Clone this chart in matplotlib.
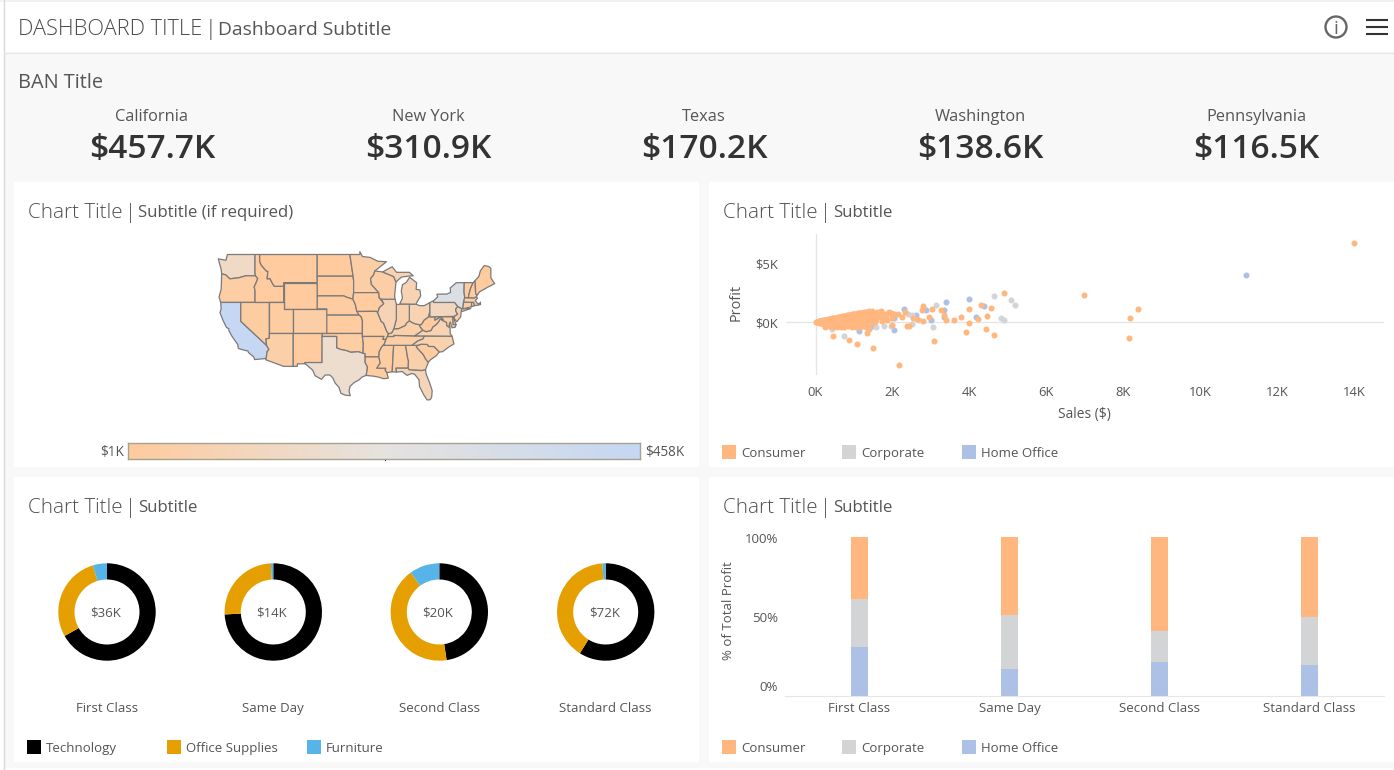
import math
import numpy as np
import matplotlib
matplotlib.use("Agg")
import matplotlib.pyplot as plt
from matplotlib.colors import LinearSegmentedColormap, Normalize
from matplotlib.patches import Rectangle, Polygon, Circle

plt.rcParams['font.family'] = ['Open Sans', 'DejaVu Sans']

# ---------- data ----------
ban_states = ["California", "New York", "Texas", "Washington", "Pennsylvania"]
ban_values = ["$457.7K", "$310.9K", "$170.2K", "$138.6K", "$116.5K"]

state_sales = {
    "CA": 457.7, "NY": 310.9, "TX": 170.2, "WA": 138.6, "PA": 116.5, "FL": 89.5, "IL": 80.2, "OH": 78.3,
    "MI": 76.3, "VA": 70.6, "NC": 55.6, "IN": 53.6, "GA": 49.1, "KY": 36.6, "NJ": 35.8, "AZ": 35.3,
    "CO": 32.1, "WI": 32.1, "TN": 30.7, "MN": 29.9, "MA": 28.6, "DE": 27.5, "RI": 22.6, "MO": 22.2,
    "OK": 19.7, "AL": 19.5, "OR": 17.4, "NV": 16.7, "CT": 13.4, "AR": 11.7, "UT": 11.2, "MS": 10.8,
    "LA": 9.2, "VT": 9.0, "SC": 8.5, "NE": 7.5, "NH": 7.3, "MT": 5.6, "NM": 4.8, "IA": 4.6, "ID": 4.4,
    "KS": 2.9, "MD": 23.7, "WY": 1.6, "SD": 1.3, "ME": 1.3, "WV": 1.2, "ND": 0.9,
}

state_shapes = {
    "WA": [[(-124.7,48.4),(-123.1,48.2),(-122.8,49.0),(-117.03,49.0),(-117.04,46.42),(-116.92,45.99),(-118.98,46.0),(-119.3,45.93),(-120.5,45.7),(-121.2,45.65),(-122.3,45.55),(-122.8,45.9),(-123.2,46.15),(-124.0,46.27),(-124.1,46.9)]],
    "OR": [[(-124.0,46.27),(-123.2,46.15),(-122.8,45.9),(-122.3,45.55),(-121.2,45.65),(-120.5,45.7),(-119.3,45.93),(-118.98,46.0),(-116.92,45.99),(-116.46,45.6),(-116.85,44.9),(-117.2,44.4),(-117.03,43.8),(-117.03,42.0),(-124.2,42.0),(-124.55,42.84),(-124.1,44.0)]],
    "CA": [[(-124.2,42),(-120,42),(-120,39),(-114.63,35.0),(-114.14,34.3),(-114.5,33.9),(-114.72,32.72),(-117.12,32.53),(-117.3,33.0),(-118.4,33.75),(-118.5,34.03),(-119.2,34.15),(-120.5,34.45),(-120.65,35.15),(-121.9,36.6),(-122.5,37.5),(-122.5,37.8),(-123.0,38.0),(-123.8,39.3),(-124.35,40.4),(-124.1,41.0)]],
    "NV": [[(-120,42),(-114.04,42),(-114.04,36.2),(-114.74,36.1),(-114.63,35.0),(-120,39)]],
    "ID": [[(-117.03,49),(-116.05,49),(-116.05,48.0),(-115.7,47.5),(-114.7,46.7),(-114.35,46.65),(-114.5,45.55),(-113.9,45.6),(-113.45,44.95),(-113.0,44.45),(-111.05,44.47),(-111.05,42),(-117.03,42),(-117.03,43.8),(-117.2,44.4),(-116.85,44.9),(-116.46,45.6),(-116.92,45.99),(-117.04,46.42)]],
    "MT": [[(-116.05,49),(-104.05,49),(-104.05,45),(-111.05,45),(-111.05,44.47),(-113,44.45),(-113.45,44.95),(-113.9,45.6),(-114.5,45.55),(-114.35,46.65),(-114.7,46.7),(-115.7,47.5),(-116.05,48)]],
    "WY": [[(-111.05,45),(-104.05,45),(-104.05,41),(-111.05,41)]],
    "UT": [[(-114.04,42),(-111.05,42),(-111.05,41),(-109.05,41),(-109.05,37),(-114.04,37)]],
    "AZ": [[(-114.04,37),(-109.05,37),(-109.05,31.33),(-111.07,31.33),(-114.8,32.5),(-114.72,32.72),(-114.5,33.9),(-114.14,34.3),(-114.63,35.0),(-114.74,36.1),(-114.04,36.2)]],
    "CO": [[(-109.05,41),(-102.05,41),(-102.05,37),(-109.05,37)]],
    "NM": [[(-109.05,37),(-103,37),(-103.04,32),(-106.62,32),(-106.53,31.78),(-108.2,31.78),(-108.2,31.33),(-109.05,31.33)]],
    "ND": [[(-104.05,49),(-97.23,49),(-96.56,45.94),(-104.05,45.94)]],
    "SD": [[(-104.05,45.94),(-96.56,45.94),(-96.45,45.3),(-96.45,43.5),(-96.6,42.5),(-97.9,42.8),(-98.5,43.0),(-104.05,43)]],
    "NE": [[(-104.05,43),(-98.5,43),(-97.9,42.8),(-96.6,42.5),(-96.1,41.7),(-95.9,41),(-95.31,40),(-102.05,40),(-102.05,41),(-104.05,41)]],
    "KS": [[(-102.05,40),(-95.31,40),(-94.9,39.8),(-94.61,39.1),(-94.62,37),(-102.05,37)]],
    "OK": [[(-103,37),(-94.62,37),(-94.62,36.5),(-94.43,35.4),(-94.48,33.64),(-95.5,33.9),(-97.0,33.8),(-98,34.1),(-99.2,34.3),(-100,34.56),(-100,36.5),(-103,36.5)]],
    "TX": [[(-103.04,36.5),(-100,36.5),(-100,34.56),(-99.2,34.3),(-98,34.1),(-97,33.8),(-95.5,33.9),(-94.48,33.64),(-94.04,33.55),(-94.04,33),(-94.04,31.99),(-93.55,31.2),(-93.7,30.3),(-93.84,29.7),(-94.7,29.4),(-95.3,28.9),(-96.4,28.35),(-97.2,27.7),(-97.4,26.8),(-97.15,25.96),(-98.2,26.05),(-99.1,26.4),(-99.5,27.5),(-100.3,28.3),(-100.8,29.25),(-101.4,29.77),(-102.4,29.77),(-103.15,28.98),(-104.5,29.65),(-105,30.65),(-106.53,31.78),(-106.62,32),(-103.04,32)]],
    "MN": [[(-97.23,49),(-95.15,49),(-95.15,49.38),(-94.6,48.72),(-93,48.6),(-91.4,48.07),(-89.6,48),(-92.0,46.7),(-92.3,46.1),(-92.9,45.6),(-92.75,44.75),(-91.2,43.5),(-96.45,43.5),(-96.45,45.3),(-96.56,45.94)]],
    "IA": [[(-96.45,43.5),(-91.2,43.5),(-91.1,42.7),(-90.15,41.8),(-91.05,41.2),(-91.42,40.38),(-91.7,40.6),(-95.77,40.58),(-95.9,41),(-96.1,41.7),(-96.6,42.5)]],
    "MO": [[(-95.77,40.58),(-91.7,40.6),(-91.42,40.38),(-90.7,39.0),(-90.2,38.7),(-89.5,37.3),(-89.15,36.97),(-89.4,36.5),(-89.7,36),(-90.37,36),(-90.15,36.5),(-94.62,36.5),(-94.62,37),(-94.61,39.1),(-94.9,39.8),(-95.31,40)]],
    "AR": [[(-94.62,36.5),(-90.15,36.5),(-90.37,36),(-89.7,36),(-90.1,35.1),(-90.6,34.7),(-91.1,33.9),(-91.17,33),(-94.04,33),(-94.04,33.55),(-94.48,33.64),(-94.43,35.4)]],
    "LA": [[(-94.04,33),(-91.17,33),(-90.9,31.9),(-91.6,31),(-89.73,31),(-89.85,30.65),(-89.5,30.2),(-89.4,29.8),(-89.2,29.2),(-90.2,29.1),(-91.3,29.4),(-92.2,29.55),(-93.84,29.7),(-93.7,30.3),(-93.55,31.2),(-94.04,31.99)]],
    "MS": [[(-90.3,35),(-88.2,35),(-88.1,34.9),(-88.4,30.35),(-89.5,30.2),(-89.85,30.65),(-89.73,31),(-91.6,31),(-90.9,31.9),(-91.17,33),(-91.1,33.9),(-90.6,34.7)]],
    "AL": [[(-88.2,35),(-85.6,35),(-85.18,32.87),(-85.0,32.3),(-85.05,31),(-87.6,31),(-87.5,30.3),(-88.4,30.35),(-88.1,34.9)]],
    "GA": [[(-85.6,35),(-83.1,35),(-83.35,34.7),(-81.9,33.4),(-81.4,32.6),(-80.85,32.05),(-81.45,30.72),(-82.2,30.57),(-84.86,30.7),(-85.05,31),(-85,32.3),(-85.18,32.87)]],
    "FL": [[(-87.6,31),(-85.05,31),(-84.86,30.7),(-82.2,30.57),(-81.45,30.72),(-81.3,29.9),(-80.6,28.4),(-80.05,26.9),(-80.15,25.7),(-80.45,25.2),(-81.1,25.15),(-81.8,26.1),(-82.7,27.7),(-82.8,28.9),(-83.7,29.9),(-84.3,30.05),(-85.3,29.7),(-86.3,30.4),(-87.5,30.3)]],
    "SC": [[(-83.1,35),(-82.3,35.2),(-81.05,35.15),(-80.8,34.82),(-79.67,34.8),(-78.55,33.86),(-79.2,33.2),(-80.4,32.5),(-80.85,32.05),(-81.4,32.6),(-81.9,33.4),(-83.35,34.7)]],
    "NC": [[(-84.32,35),(-83.1,35),(-82.3,35.2),(-81.05,35.15),(-80.8,34.82),(-79.67,34.8),(-78.55,33.86),(-77.9,33.9),(-76.6,34.7),(-75.5,35.25),(-75.9,36.55),(-81.68,36.59),(-82.0,36.1),(-83.1,35.75)]],
    "TN": [[(-89.4,36.5),(-88.05,36.5),(-88.07,36.68),(-83.68,36.6),(-81.68,36.59),(-82,36.1),(-83.1,35.75),(-84.32,35),(-85.6,35),(-88.2,35),(-90.3,35),(-90.1,35.1),(-89.7,36)]],
    "KY": [[(-89.15,36.97),(-88.5,37.1),(-88.05,37.8),(-87.1,37.8),(-86.3,38.1),(-85.7,38.3),(-85.4,38.72),(-84.82,39.1),(-84.2,38.8),(-83.7,38.63),(-82.6,38.42),(-82.6,38.15),(-81.97,37.54),(-83.68,36.6),(-88.07,36.68),(-88.05,36.5),(-89.4,36.5)]],
    "VA": [[(-83.68,36.6),(-81.97,37.54),(-81.3,37.3),(-80.3,37.5),(-79.9,38.1),(-79.3,38.42),(-78.87,38.76),(-78.35,39.4),(-77.83,39.13),(-77.05,38.84),(-76.99,38.3),(-76.3,37.9),(-76.3,37.0),(-75.9,36.55),(-81.68,36.59)]],
    "WV": [[(-82.6,38.42),(-82.2,38.6),(-81.75,39.2),(-80.85,39.7),(-80.52,40.64),(-80.52,39.72),(-79.48,39.72),(-79.48,39.2),(-78.35,39.7),(-77.73,39.32),(-77.83,39.13),(-78.35,39.4),(-78.87,38.76),(-79.3,38.42),(-79.9,38.1),(-80.3,37.5),(-81.3,37.3),(-81.97,37.54),(-82.6,38.15)]],
    "OH": [[(-84.82,41.7),(-83.45,41.73),(-82.7,41.5),(-81.7,41.5),(-80.52,41.98),(-80.52,40.64),(-80.85,39.7),(-81.75,39.2),(-82.2,38.6),(-82.6,38.42),(-83.7,38.63),(-84.2,38.8),(-84.82,39.1)]],
    "IN": [[(-87.53,41.71),(-87.0,41.68),(-86.8,41.76),(-84.82,41.76),(-84.82,39.1),(-85.4,38.72),(-85.7,38.3),(-86.3,38.1),(-87.1,37.8),(-88.05,37.8),(-87.53,39.35)]],
    "IL": [[(-90.64,42.5),(-87.8,42.5),(-87.53,41.71),(-87.53,39.35),(-88.05,37.8),(-88.5,37.1),(-89.15,36.97),(-89.5,37.3),(-90.2,38.7),(-90.7,39),(-91.42,40.38),(-91.05,41.2),(-90.15,41.8)]],
    "WI": [[(-92.0,46.7),(-90.4,46.55),(-88.1,45.9),(-87.6,45.1),(-87.9,43),(-87.8,42.5),(-90.64,42.5),(-91.1,42.7),(-91.2,43.5),(-92.75,44.75),(-92.9,45.6),(-92.3,46.1)]],
    "MI": [[(-86.8,41.76),(-83.45,41.73),(-83.1,42.2),(-82.45,43.0),(-82.6,43.9),(-83.4,44.0),(-83.3,45),(-84.75,45.78),(-85.5,45),(-86.25,44.7),(-86.5,43.7),(-86.25,42.7)],
           [(-90.4,46.55),(-88.4,47.3),(-87.5,46.5),(-84.8,46.5),(-84,46),(-85,45.95),(-86.5,45.8),(-87.6,45.1),(-88.1,45.9)]],
    "PA": [[(-80.52,41.98),(-79.76,42.27),(-79.76,42),(-75.35,42),(-74.7,41.36),(-75.13,40.98),(-75.1,40.6),(-74.72,40.15),(-75.4,39.8),(-80.52,39.72),(-80.52,40.64)]],
    "NY": [[(-79.76,42.27),(-78.9,42.85),(-79.05,43.27),(-77,43.28),(-76.2,43.55),(-76.3,44.2),(-75,44.98),(-73.35,45),(-73.4,43.6),(-73.25,42.75),(-73.5,42.05),(-73.65,41.0),(-72,41.05),(-73.7,40.6),(-74.0,40.6),(-73.9,41.0),(-74.7,41.36),(-75.35,42),(-79.76,42)]],
    "NJ": [[(-74.7,41.36),(-73.9,41),(-74.0,40.45),(-74.1,39.75),(-74.9,38.93),(-75.5,39.5),(-75.4,39.8),(-74.72,40.15),(-75.1,40.6),(-75.13,40.98)]],
    "DE": [[(-75.79,39.72),(-75.4,39.8),(-75.55,39.5),(-75.05,38.45),(-75.7,38.46)]],
    "MD": [[(-79.48,39.72),(-75.79,39.72),(-75.7,38.46),(-75.05,38.45),(-75.25,38.03),(-75.9,37.95),(-76.3,38.9),(-76.5,38.5),(-76.3,38.05),(-76.99,38.3),(-77.05,38.84),(-77.83,39.13),(-77.73,39.32),(-78.35,39.7),(-79.48,39.2)]],
    "CT": [[(-73.5,42.05),(-71.8,42.02),(-71.85,41.32),(-73.65,41.0)]],
    "RI": [[(-71.8,42.02),(-71.38,42.02),(-71.2,41.5),(-71.85,41.32)]],
    "MA": [[(-73.5,42.05),(-73.25,42.75),(-71.3,42.7),(-70.8,42.87),(-70.6,42.65),(-71.05,42.3),(-70.55,41.8),(-70,41.8),(-70.0,42.05),(-69.95,41.67),(-70.65,41.55),(-71.2,41.5),(-71.38,42.02),(-71.8,42.02)]],
    "VT": [[(-73.35,45),(-71.5,45),(-72.05,44.1),(-72.45,43.0),(-72.46,42.73),(-73.25,42.75),(-73.4,43.6)]],
    "NH": [[(-71.5,45),(-71.08,45.3),(-70.98,43.4),(-70.7,43.07),(-70.8,42.87),(-71.3,42.7),(-72.46,42.73),(-72.45,43),(-72.05,44.1)]],
    "ME": [[(-71.08,45.3),(-70.3,45.9),(-70,46.7),(-69.2,47.45),(-68.3,47.35),(-67.8,47.07),(-67.8,45.7),(-67.0,44.85),(-68.5,44.3),(-70.2,43.6),(-70.7,43.07),(-70.98,43.4)]],
}

scatter_home_sales = [3.99,3.39,4.37,4.16,3.35,3.33,3.0,2.87,2.62,2.3,1.68,2.04,2.04,1.13,1.46,11.19,1.2,1.75]
scatter_home_profit = [1.98,1.67,1.38,0.40,1.05,0.40,0.20,1.05,0.56,1.13,0.85,0.34,-0.65,-0.73,-0.37,3.95,-0.15,0.6]
scatter_corp_sales = [4.65,5.09,5.19,4.81,4.91,3.13,3.06,2.5,2.5,0.74,0.42,1.57,1.78,2.4,1.95,2.7,1.05,1.3]
scatter_corp_profit = [2.23,1.89,1.41,0.37,0.20,1.47,-0.45,0.62,-0.20,-1.16,-0.60,-0.45,-0.31,0.7,-0.3,0.2,-0.35,-0.4]
scatter_cons_sales = [14.0,6.97,8.18,8.39,8.15,4.91,4.55,4.31,3.99,4.46,3.78,3.6,4.23,3.99,4.42,3.92,4.65,3.09,2.17,1.5,1.07,0.87,0.45,1.34,
    2.8,2.78,3.03,3.27,3.35,3.39,2.8,2.94,2.63,2.53,2.37,2.44,2.24,2.33,2.14,1.99,2.0,1.99,
    0.02,0.04,0.06,0.08,0.1,0.12,0.15,0.17,0.2,0.22,0.25,0.27,0.3,0.32,0.35,0.38,0.4,0.43,0.45,0.48,0.5,0.53,0.55,0.58,0.6,0.63,0.65,0.68,0.7,0.73,0.75,0.78,0.8,0.83,0.85,0.88,0.9,0.93,0.95,0.98,1.0,1.03,1.05,1.08,1.1,1.13,1.15,1.18,1.2,1.25,1.3,1.35,1.4,
    0.05,0.1,0.15,0.2,0.25,0.3,0.35,0.4,0.45,0.5,0.55,0.6,0.65,0.7,0.75,0.8,0.85,0.9,0.95,1.0,1.05,1.1,1.15,1.2,1.28,1.35,1.4,
    0.08,0.14,0.2,0.26,0.32,0.38,0.44,0.5,0.56,0.62,0.68,0.74,0.8,0.86,0.92,0.98,1.04,1.1,1.16,1.22,1.3,
    1.45,1.5,1.55,1.6,1.65,1.7,1.75,1.8,1.85,1.9,1.45,1.55,1.62,1.72,1.82,1.3,1.42,1.95,2.05,1.48,1.58,
    0.1,0.18,0.24,0.3,0.36,0.42,0.48,0.54,0.6,0.66,0.72,0.78,0.84,0.9,0.96,1.02,1.08,1.14,1.2,1.26,1.32,1.38,
    0.25,0.35,0.45,0.55,0.65,0.75,0.85,0.95,1.05,1.15,1.25]
scatter_cons_profit = [6.72,2.26,0.37,1.13,-1.33,2.43,1.21,1.47,1.13,0.54,0.45,0.14,0.23,-0.06,-0.62,-0.82,-1.07,-1.64,-3.67,-2.23,-1.84,-1.50,-1.16,-0.90,
    1.38,0.99,1.13,1.05,0.62,0.20,0.06,0.42,0.28,0.34,-0.31,-0.31,0.42,0.82,0.70,0.70,0.34,-0.23,
    0.01,0.03,0.04,0.06,0.07,0.09,0.11,0.12,0.14,0.16,0.17,0.2,0.21,0.22,0.25,0.27,0.28,0.3,0.32,0.33,0.35,0.37,0.38,0.4,0.41,0.43,0.45,0.46,0.48,0.5,0.51,0.53,0.54,0.56,0.58,0.6,0.61,0.62,0.64,0.66,0.67,0.69,0.7,0.72,0.73,0.75,0.77,0.78,0.8,0.82,0.85,0.88,0.9,
    -0.03,-0.06,-0.1,-0.14,-0.2,-0.25,-0.18,-0.3,-0.22,-0.28,-0.15,-0.32,-0.2,-0.25,-0.1,-0.28,-0.05,-0.16,-0.22,-0.12,-0.3,-0.08,0.0,-0.2,-0.1,-0.45,-0.55,
    0.02,0.05,0.08,0.1,0.13,0.16,0.2,0.18,0.24,0.22,0.28,0.25,0.32,0.3,0.38,0.35,0.42,0.4,0.48,0.45,0.5,
    0.55,0.7,0.35,0.85,0.5,0.9,0.4,0.7,0.15,0.85,-0.1,0.0,0.45,0.1,0.55,0.3,0.2,0.75,0.7,0.92,0.25,
    -0.02,0.0,-0.08,0.08,-0.02,0.1,0.0,0.12,0.04,0.15,0.06,0.18,0.08,0.2,0.05,0.22,0.1,0.25,0.15,0.3,0.2,0.4,
    -0.4,-0.35,-0.45,-0.4,-0.38,-0.42,-0.36,-0.4,-0.38,-0.42,-0.3]

donut_titles = ["First Class", "Same Day", "Second Class", "Standard Class"]
donut_totals = ["$36K", "$14K", "$20K", "$72K"]
donut_technology = [66.8, 74.2, 47.6, 58.9]
donut_office = [28.5, 25.0, 42.4, 40.0]
donut_furniture = [4.7, 0.8, 10.0, 1.1]

bar_categories = ["First Class", "Same Day", "Second Class", "Standard Class"]
bar_home = [30.4, 17.0, 21.0, 19.0]
bar_corporate = [30.4, 33.5, 19.6, 30.4]
bar_consumer = [39.2, 49.5, 59.4, 50.6]

segment_names = ["Consumer", "Corporate", "Home Office"]
category_names = ["Technology", "Office Supplies", "Furniture"]

# ---------- style ----------
C_ORANGE, C_GREY, C_BLUE = "#ffb77f", "#d3d4d6", "#adc0e6"
C_TECH, C_OFFICE, C_FURN = "#000000", "#e69f00", "#56b4e9"
TXT = "#555555"
W, H = 1394, 770

fig = plt.figure(figsize=(W / 100, H / 100), dpi=100, facecolor="#ffffff")
bg = fig.add_axes([0, 0, 1, 1])
bg.set_xlim(0, W)
bg.set_ylim(H, 0)
bg.axis("off")


def rect(x0, y0, x1, y1, color, **kw):
    bg.add_patch(Rectangle((x0, y0), x1 - x0, y1 - y0, facecolor=color, edgecolor="none", **kw))


def txt(x, y, s, size, color=TXT, ha="left", **kw):
    """y is the visual centre of the capitals; placed by baseline so descenders don't shift it."""
    if kw.get("rotation"):
        bg.text(x, y, s, fontsize=size * 0.72, color=color, ha=ha, va="center", **kw)
    else:
        bg.text(x, y + size * 0.36, s, fontsize=size * 0.72, color=color, ha=ha, va="baseline", **kw)


def sub_axes(x0, y0, x1, y1):
    a = fig.add_axes([x0 / W, 1 - y1 / H, (x1 - x0) / W, (y1 - y0) / H])
    a.patch.set_alpha(0)
    return a


# page background and panels
rect(4, 0, W, 768, "#f8f8f8")
rect(0, 0, W, 2, "#f2f2f2")
rect(4, 2, W, 52, "#ffffff")
bg.plot([3.5, 3.5], [0, 770], color="#d9d9d9", lw=1)
bg.plot([4, W], [52.5, 52.5], color="#e8e8e8", lw=1)
for x0, y0, x1, y1 in [(14, 182, 699, 467), (709, 182, W, 467), (14, 477, 699, 762), (709, 477, W, 762)]:
    rect(x0, y0, x1, y1, "#ffffff")

# header
txt(18, 27, "DASHBOARD TITLE", 21.8, color="#4a4a4a", fontweight="light")
txt(210, 27, "|", 21.8, color="#4a4a4a", ha="center", fontweight="light")
txt(218, 28, "Dashboard Subtitle", 19.3, color="#555555")
bg.add_patch(Circle((1336, 27), 10.5, facecolor="none", edgecolor="#666666", lw=1.7))
txt(1336, 27, "i", 19, color="#666666", ha="center")
for yy in (20, 27, 34):
    bg.plot([1366, 1388], [yy, yy], color="#333333", lw=1.5, solid_capstyle="butt")

# BAN
txt(18, 81, "BAN Title", 19.9, color="#555555")
for i, (n, v) in enumerate(zip(ban_states, ban_values)):
    cx = 152 + 276 * i
    txt(cx, 115, n, 16.4, ha="center")
    txt(cx, 146, v, 33.5, color="#333333", ha="center", fontweight="semibold")

# panel titles
for tx, ty, sub in [(28, 211, "Subtitle (if required)"), (723, 211, "Subtitle"), (28, 506, "Subtitle"), (723, 506, "Subtitle")]:
    txt(tx, ty, "Chart Title", 20.5, fontweight="light", color="#4f4f4f")
    txt(tx + 102, ty, "|", 20.5, fontweight="light", color="#4f4f4f", ha="center")
    txt(tx + 110, ty, sub, 16.8)


# ---------- map ----------
def merc(lat):
    return math.degrees(math.log(math.tan(math.radians(45 + lat / 2))))


map_scale = 4.79
map_x0, map_x1, map_y0, map_y1 = 200, 520, 240, 415
m = sub_axes(map_x0, map_y0, map_x1, map_y1)
lon_l = -124.7 + (map_x0 - 218.3) / map_scale
lon_r = -124.7 + (map_x1 - 218.3) / map_scale
m_top = merc(49) + (254.5 - map_y0) / map_scale
m_bot = merc(49) - (map_y1 - 254.5) / map_scale
m.set_xlim(lon_l, lon_r)
m.set_ylim(m_bot, m_top)
m.axis("off")
cmap = LinearSegmentedColormap.from_list("ob", ["#ffcb9e", "#e6e3df", "#c5d7f3"])
norm = Normalize(1, 458)
for st, parts in state_shapes.items():
    for part in parts:
        pts = [(lon, merc(lat)) for lon, lat in part]
        m.add_patch(Polygon(pts, closed=True, facecolor=cmap(norm(state_sales[st])),
                            edgecolor="#7a7a7a", lw=0.9, joinstyle="round"))

# colour legend
cb = sub_axes(128, 443, 640, 459)
cb.imshow(np.linspace(1, 458, 512)[None, :], cmap=cmap, norm=norm, aspect="auto", extent=(1, 458, 0, 1))
cb.set_xticks([])
cb.set_yticks([])
for sp in cb.spines.values():
    sp.set_color("#a5a290")
    sp.set_linewidth(1)
bg.plot([384.5, 384.5], [457, 460], color="#222222", lw=0.8, zorder=5)
txt(124, 451, "$1K", 13.5, ha="right")
txt(645, 451, "$458K", 13.5)

# ---------- scatter ----------
s = sub_axes(786, 234, 1384, 375)
s.set_xlim(-0.767, 14.78)
s.set_ylim(-4.49, 7.46)
s.scatter(scatter_home_sales, scatter_home_profit, s=19, color=C_BLUE, linewidths=0, zorder=3)
s.scatter(scatter_corp_sales, scatter_corp_profit, s=19, color=C_GREY, linewidths=0, zorder=4)
s.scatter(scatter_cons_sales, scatter_cons_profit, s=19, color=C_ORANGE, linewidths=0, zorder=5)
s.axhline(0, color="#e6e6e6", lw=1, zorder=1)
s.axvline(0, color="#e6e6e6", lw=1, zorder=1)
for sp in s.spines.values():
    sp.set_visible(False)
s.set_xticks(range(0, 15, 2), [f"{v}K" for v in range(0, 15, 2)])
s.set_yticks([0, 5], ["$0K", "$5K"])
s.tick_params(length=0, labelsize=13 * 0.72, labelcolor=TXT, pad=6)
s.tick_params(axis="x", pad=8)
txt(736, 302, "Profit", 14.5, ha="center", rotation=90)
txt(1084, 413, "Sales ($)", 13.7, ha="center")


def legend(items, xs, y):
    for (name, col), x in zip(items, xs):
        rect(x, y - 7, x + 14, y + 7, col)
        txt(x + 19, y, name, 13.3)


seg_items = list(zip(segment_names, [C_ORANGE, C_GREY, C_BLUE]))
legend(seg_items, [722, 842, 962], 452)

# ---------- donuts ----------
centres = [107, 273.3, 439.3, 605.7]
for i, cx in enumerate(centres):
    r = 48.7
    d = sub_axes(cx - r - 2, 612 - r - 2, cx + r + 2, 612 + r + 2)
    d.pie([donut_technology[i], donut_office[i], donut_furniture[i]],
          colors=[C_TECH, C_OFFICE, C_FURN], startangle=90, counterclock=False,
          radius=r, wedgeprops=dict(width=r - 32.5, linewidth=0))
    d.set_xlim(-r - 2, r + 2)
    d.set_ylim(-r - 2, r + 2)
    d.set_aspect("equal")
    txt(cx - 1.5, 612, donut_totals[i], 13.3, ha="center")
    txt(cx, 707, donut_titles[i], 13.3, ha="center")
legend(list(zip(category_names, [C_TECH, C_OFFICE, C_FURN])), [27, 167, 307], 747)

# ---------- stacked bars ----------
b = sub_axes(785, 537, 1384, 695.5)
b.set_xlim(-0.4967, 3.497)
b.set_ylim(0, 100)
xpos = np.arange(len(bar_categories))
bw = 0.113
home, corp, cons = np.array(bar_home), np.array(bar_corporate), np.array(bar_consumer)
b.bar(xpos, home, bw, color=C_BLUE, linewidth=0)
b.bar(xpos, corp, bw, bottom=home, color=C_GREY, linewidth=0)
b.bar(xpos, cons, bw, bottom=home + corp, color=C_ORANGE, linewidth=0)
for name in ("top", "left", "right"):
    b.spines[name].set_visible(False)
b.spines["bottom"].set_color("#e6e6e6")
b.set_xticks(xpos, bar_categories)
b.set_yticks([])
b.tick_params(length=0, labelsize=13.3 * 0.72, labelcolor=TXT, pad=5)
txt(778, 538, "100%", 13.3, ha="right")
txt(778, 617, "50%", 13.3, ha="right")
txt(778, 686, "0%", 13.3, ha="right")
txt(729, 611, "% of Total Profit", 13.3, ha="center", rotation=90)
legend(seg_items, [722, 842, 962], 747)

fig.savefig("out.png", dpi=100)
